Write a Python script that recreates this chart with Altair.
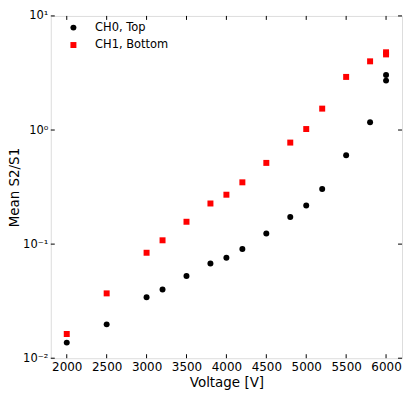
import altair as alt
import pandas as pd

voltage = [2000, 2500, 3000, 3200, 3500, 3800, 4000, 4200, 4500, 4800, 5000, 5200, 5500, 5800, 6000, 6000]
ch0_top = [0.0137, 0.0198, 0.0342, 0.040, 0.0525, 0.0677, 0.076, 0.0907, 0.124, 0.173, 0.218, 0.304, 0.602, 1.17, 3.04, 2.71]
ch1_bottom = [0.0163, 0.037, 0.084, 0.108, 0.157, 0.227, 0.271, 0.348, 0.515, 0.776, 1.02, 1.54, 2.92, 4.0, 4.8, 4.6]
series_names = ["CH0, Top", "CH1, Bottom"]
x_ticks = [2000, 2500, 3000, 3500, 4000, 4500, 5000, 5500, 6000]
y_ticks = [0.01, 0.1, 1, 10]

W, H = 353, 344
FONT = "DejaVu Sans"

df = pd.concat([
    pd.DataFrame({"V": voltage, "val": ch0_top, "series": series_names[0]}),
    pd.DataFrame({"V": voltage, "val": ch1_bottom, "series": series_names[1]}),
])
xt = pd.DataFrame({"V": x_ticks})
yt = pd.DataFrame({"val": y_ticks})

xscale = alt.Scale(domain=[1800, 6200], nice=False, zero=False)
yscale = alt.Scale(type="log", domain=[0.01, 10], nice=False)

xaxis = alt.Axis(values=x_ticks, format="d", ticks=False, domain=False, grid=False,
                 labelPadding=3, labelFontSize=12, titleFontSize=13.5,
                 titleFontWeight="normal", titlePadding=3, labelFont=FONT, titleFont=FONT,
                 labelColor="black", titleColor="black")
yaxis = alt.Axis(values=y_ticks, ticks=False, domain=False, grid=False,
                 labelPadding=3, labelFontSize=11.5, titleFontSize=13.5,
                 titleFontWeight="normal", labelFont=FONT, titleFont=FONT,
                 labelColor="black", titleColor="black",
                 titleX=-36, titleY=H / 2, titleAngle=270, titleAlign="center", titleBaseline="middle",
                 labelExpr="'10' + (datum.value < 0.05 ? '⁻²' : datum.value < 0.5 ? '⁻¹' : datum.value < 5 ? '⁰' : '¹')")

X = alt.X("V:Q", scale=xscale, title="Voltage [V]", axis=xaxis)
Y = alt.Y("val:Q", scale=yscale, title="Mean S2/S1", axis=yaxis)

points = alt.Chart(df).mark_point(filled=True, opacity=1, size=36).encode(
    x=X, y=Y,
    color=alt.Color("series:N", scale=alt.Scale(domain=series_names, range=["black", "red"]),
                    legend=alt.Legend(title=None, orient="none", legendX=17, legendY=6,
                                      labelFontSize=11.5, labelFont=FONT, labelColor="black",
                                      symbolSize=36, rowPadding=4.5, labelOffset=16, padding=0)),
    shape=alt.Shape("series:N", scale=alt.Scale(domain=series_names, range=["circle", "square"])),
)

tlen = 4
xb = alt.Chart(xt).mark_rule(color="black", strokeWidth=1).encode(
    x=X, y=alt.value(H), y2=alt.value(H - tlen))
xtop = alt.Chart(xt).mark_rule(color="black", strokeWidth=1).encode(
    x=X, y=alt.value(0), y2=alt.value(tlen))
yl = alt.Chart(yt).mark_rule(color="black", strokeWidth=1).encode(
    y=Y, x=alt.value(0), x2=alt.value(tlen))
yr = alt.Chart(yt).mark_rule(color="black", strokeWidth=1).encode(
    y=Y, x=alt.value(W), x2=alt.value(W - tlen))

chart = alt.layer(points, xb, xtop, yl, yr).properties(
    width=W, height=H,
    autosize=alt.AutoSizeParams(type="none"),
    padding={"left": 43, "top": 7, "right": 5, "bottom": 34},
).configure_view(stroke="black", strokeWidth=1, strokeOpacity=1).configure(background="white")

chart.save("out.html", embed_options={"renderer": "svg", "actions": False})
